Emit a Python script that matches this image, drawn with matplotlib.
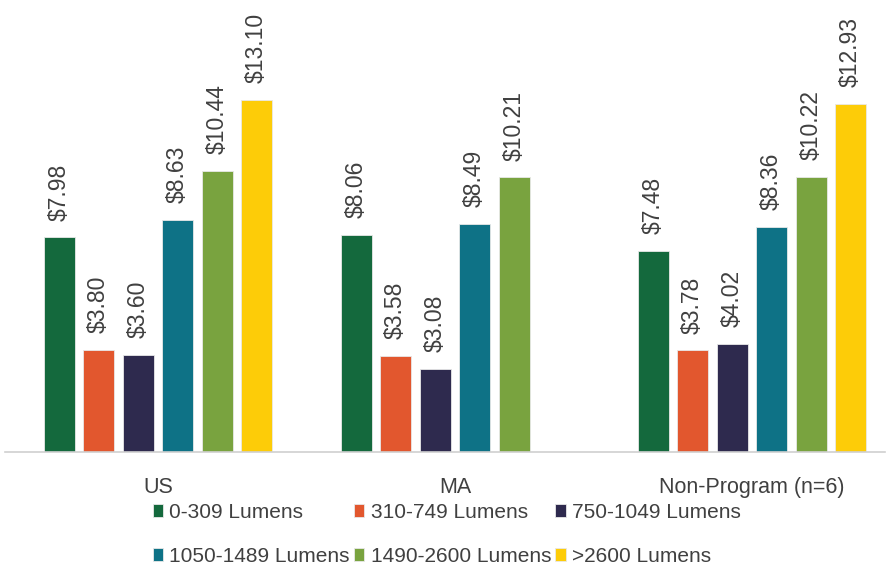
import matplotlib.pyplot as plt
import numpy as np
from matplotlib import font_manager

groups = ["US", "MA", "Non-Program (n=6)"]
series = ["0-309 Lumens", "310-749 Lumens", "750-1049 Lumens",
          "1050-1489 Lumens", "1490-2600 Lumens", ">2600 Lumens"]
# price per bulb, one list per lumen bin (None = no data for that group)
lum_0_309 = [7.98, 8.06, 7.48]
lum_310_749 = [3.80, 3.58, 3.78]
lum_750_1049 = [3.60, 3.08, 4.02]
lum_1050_1489 = [8.63, 8.49, 8.36]
lum_1490_2600 = [10.44, 10.21, 10.22]
lum_2600_up = [13.10, None, 12.93]

colors = ["#14693d", "#e2572e", "#2e2a4e", "#0e7286", "#79a33f", "#fdcc08"]

names = {f.name for f in font_manager.fontManager.ttflist}
fam = "Liberation Sans Narrow" if "Liberation Sans Narrow" in names else "Liberation Sans"
plt.rcParams['font.family'] = [fam, 'DejaVu Sans']

fig = plt.figure(figsize=(8.88, 5.65), dpi=100)
ax = fig.add_axes([5/888, 0.2, 880/888, 0.8])

all_vals = [lum_0_309, lum_310_749, lum_750_1049, lum_1050_1489, lum_1490_2600, lum_2600_up]
x = np.arange(len(groups))
pitch = 39.5/297
width = 31/297
handles = []
for i, (vals, c, name) in enumerate(zip(all_vals, colors, series)):
    pos = x + (i - 2.5)*pitch
    xs = [p for p, v in zip(pos, vals) if v is not None]
    ys = [v for v in vals if v is not None]
    b = ax.bar(xs, ys, width, color=c, edgecolor="#e8e8e8", linewidth=0.6, label=name)
    handles.append(b)
    for px, v in zip(xs, ys):
        ax.annotate(f"${v:.2f}", (px, v), xytext=(0, 12), textcoords="offset points",
                    rotation=90, ha="center", va="bottom", fontsize=16.5, color="#404040")

ax.set_xlim(-0.515, 2.448)
ax.set_ylim(0, 16.8)
ax.set_yticks([])
ax.set_xticks(x)
ax.set_xticklabels(groups, fontsize=15.5, color="#404040")
ax.tick_params(axis="x", length=0, pad=18)
for s in ["top", "right", "left"]:
    ax.spines[s].set_visible(False)
ax.spines["bottom"].set_color("#d0d0d0")
ax.spines["bottom"].set_linewidth(1.2)

# legend fills column by column, so reorder to read row by row
order = [0, 3, 1, 4, 2, 5]
fig.legend([handles[k] for k in order], [series[k] for k in order],
           loc="upper left", bbox_to_anchor=(138/888, 1-488/565), ncol=3,
           frameon=False, fontsize=15, handlelength=0.5, handleheight=0.6,
           handletextpad=0.3, columnspacing=0.2, labelspacing=1.2,
           labelcolor="#404040", borderpad=0.2)

fig.savefig("out.png", dpi=100)
